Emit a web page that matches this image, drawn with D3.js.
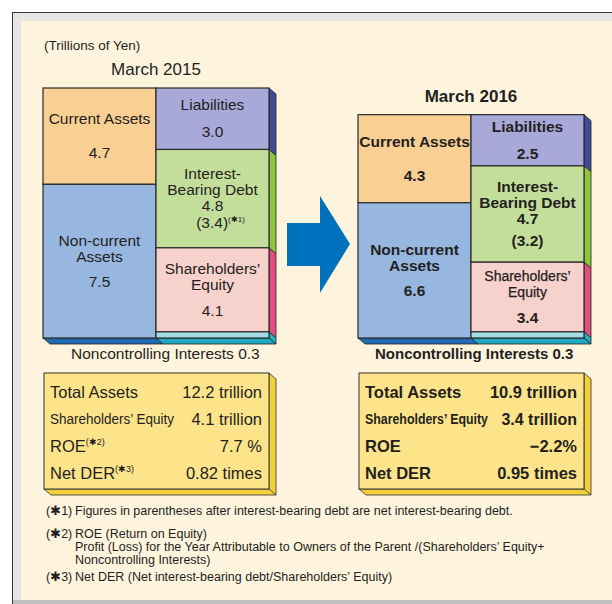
<!DOCTYPE html>
<html>
<head>
<meta charset="utf-8">
<script src="https://cdn.jsdelivr.net/npm/d3@7"></script>
<style>
  body { margin: 0; background: #fff; }
  svg { display: block; font-family: "Liberation Sans", Arial, sans-serif; }
</style>
</head>
<body>
<svg id="chart" width="612" height="604"></svg>
<script>
// values in trillions of yen
const years = ["March 2015", "March 2016"];
const currentAssets = [4.7, 4.3];
const noncurrentAssets = [7.5, 6.6];
const liabilities = [3.0, 2.5];
const interestBearingDebt = [4.8, 4.7];
const netInterestBearingDebt = [3.4, 3.2];
const shareholdersEquity = [4.1, 3.4];
const noncontrollingInterests = [0.3, 0.3];
const totalAssets = [12.2, 10.9];
const roe = [7.7, -2.2];
const netDER = [0.82, 0.95];

const footnotes = [
  ["(\u27311) ", "Figures in parentheses after interest-bearing debt are net interest-bearing debt."],
  ["(\u27312) ", "ROE (Return on Equity)"],
  ["", "Profit (Loss) for the Year Attributable to Owners of the Parent /(Shareholders\u2019 Equity+"],
  ["", "Noncontrolling Interests)"],
  ["(\u27313) ", "Net DER (Net interest-bearing debt/Shareholders\u2019 Equity)"],
];

const svg = d3.select("#chart");
const ink = "#231f20";
const depth = { x: 7, y: 6 };
const baseY = 338;
const colW = 113;
const chartX = [43, 358];
const nciX = [71, 375];

const colors = {
  current: "#f9cf93", noncurrent: "#97b6e0", liab: "#a9a9d9",
  ibd: "#c3dd9b", se: "#f7d1cc", nci: "#a3dce5",
};
const sideColors = {
  liab: "#3f4b97", ibd: "#8cc63f", se: "#e24d80", nci: "#1fb3c9",
};

// frame
svg.append("rect").attr("x", 12.5).attr("y", 12.5).attr("width", 620).attr("height", 600)
  .attr("fill", "#e8e4e2").attr("stroke", "#2e3b3b");
svg.append("rect").attr("x", 13).attr("y", 600).attr("width", 600).attr("height", 4).attr("fill", "#bfbfbf");
svg.append("rect").attr("x", 21).attr("y", 21).attr("width", 600).attr("height", 579).attr("fill", "#fef4de");

svg.append("text").attr("x", 44).attr("y", 50).attr("font-size", 13.5).attr("fill", ink)
  .text("(Trillions of Yen)");

const h = d3.scaleLinear().domain([0, d3.max(totalAssets)]).range([0, 250]);

function poly(pts) { return "M" + pts.map(p => p.join(",")).join("L") + "Z"; }

years.forEach((year, i) => {
  const bold = i === 1;
  const weight = bold ? "bold" : "normal";
  const x = d3.scaleBand().domain(["assets", "claims"]).range([chartX[i], chartX[i] + 2 * colW]);
  const g = svg.append("g");
  const top = baseY - h(totalAssets[i]);

  g.append("text").attr("x", chartX[i] + colW).attr("y", top - 13)
    .attr("text-anchor", "middle").attr("font-size", 17).attr("font-weight", weight)
    .attr("fill", ink).text(year);

  const fmt = d3.format(".1f");
  const assets = [
    { key: "current", v: currentAssets[i], lines: ["Current Assets"], gaps: [34], vals: [fmt(currentAssets[i])] },
    { key: "noncurrent", v: noncurrentAssets[i], lines: ["Non-current", "Assets"], gaps: [25], vals: [fmt(noncurrentAssets[i])] },
  ];
  const claims = [
    { key: "liab", v: liabilities[i], lines: ["Liabilities"], gaps: [27], vals: [fmt(liabilities[i])] },
    { key: "ibd", v: interestBearingDebt[i], lines: ["Interest-", "Bearing Debt"], gaps: [16, bold ? 22 : 17],
      vals: [fmt(interestBearingDebt[i]), "(" + fmt(netInterestBearingDebt[i]) + ")"], note: i === 0 ? "(\u27311)" : null },
    { key: "se", v: shareholdersEquity[i], lines: ["Shareholders\u2019", "Equity"], gaps: [26], vals: [fmt(shareholdersEquity[i])], narrow: bold },
    { key: "nci", v: noncontrollingInterests[i], lines: [], gaps: [], vals: [] },
  ];

  function stack(list, col) {
    let y0 = top;
    list.forEach(d => {
      d.y0 = y0; d.y1 = y0 + h(d.v); d.x0 = x(col); d.x1 = x(col) + x.bandwidth();
      y0 = d.y1;
    });
  }
  stack(assets, "assets");
  stack(claims, "claims");

  // right side faces
  const xr = x("claims") + x.bandwidth();
  g.selectAll(".side").data(claims).join("path")
    .attr("d", d => poly([[xr, d.y0], [xr + depth.x, d.y0 + depth.y], [xr + depth.x, d.y1 + depth.y], [xr, d.y1]]))
    .attr("fill", d => sideColors[d.key]).attr("stroke", "#222").attr("stroke-width", 0.8);
  // bottom faces
  g.append("path")
    .attr("d", poly([[x("assets"), baseY], [x("assets") + depth.x, baseY + depth.y], [x("claims") + depth.x, baseY + depth.y], [x("claims"), baseY]]))
    .attr("fill", "#1f6cb4").attr("stroke", "#222").attr("stroke-width", 0.8);
  g.append("path")
    .attr("d", poly([[x("claims"), baseY], [x("claims") + depth.x, baseY + depth.y], [xr + depth.x, baseY + depth.y], [xr, baseY]]))
    .attr("fill", "#1fa9c2").attr("stroke", "#222").attr("stroke-width", 0.8);

  const blocks = assets.concat(claims);
  g.selectAll(".block").data(blocks).join("rect")
    .attr("x", d => d.x0).attr("y", d => d.y0)
    .attr("width", d => d.x1 - d.x0).attr("height", d => d.y1 - d.y0)
    .attr("fill", d => colors[d.key]).attr("stroke", "#2a2a2a").attr("stroke-width", 1.2);

  // block labels, centred vertically in each block
  blocks.filter(d => d.lines.length).forEach(d => {
    const rows = [];
    let y = 0;
    d.lines.forEach((t, k) => { if (k > 0) y += 16; rows.push({ t, y }); });
    d.vals.forEach((t, k) => { y += d.gaps[k]; rows.push({ t, y, val: true }); });
    const off = (d.y0 + d.y1) / 2 - y / 2 + 5;
    const cx = (d.x0 + d.x1) / 2;
    rows.forEach((r, k) => {
      const last = d.note && k === rows.length - 1;
      const t = g.append("text").attr("x", cx + (last ? 8 : 0)).attr("y", off + r.y)
        .attr("text-anchor", "middle").attr("font-size", 15.5).attr("font-weight", weight).attr("fill", ink);
      if (d.narrow && !r.val) {
        t.attr("font-size", 14).attr("font-weight", "normal").attr("stroke", ink).attr("stroke-width", 0.25);
      }
      t.append("tspan").text(r.t);
      if (last) t.append("tspan").attr("font-size", 8).attr("dy", -6).text(d.note);
    });
  });

  g.append("text").attr("x", nciX[i]).attr("y", 359)
    .attr("font-size", bold ? 15 : 15.5).attr("font-weight", weight).attr("fill", ink)
    .text("Noncontrolling Interests " + fmt(noncontrollingInterests[i]));

  // summary box
  const bx = chartX[i] + 1, by = 373, bw = 225, bh = 116;
  const sg = svg.append("g");
  sg.append("path").attr("d", poly([[bx + bw, by], [bx + bw + depth.x, by + depth.y], [bx + bw + depth.x, by + bh + depth.y], [bx + depth.x, by + bh + depth.y], [bx, by + bh], [bx + bw, by + bh]]))
    .attr("fill", "#f3cf3a").attr("stroke", "#333").attr("stroke-width", 0.8);
  sg.append("line").attr("x1", bx + bw).attr("y1", by + bh).attr("x2", bx + bw + depth.x).attr("y2", by + bh + depth.y)
    .attr("stroke", "#333").attr("stroke-width", 0.8);
  sg.append("rect").attr("x", bx).attr("y", by).attr("width", bw).attr("height", bh)
    .attr("fill", "#fde48a").attr("stroke", "#333").attr("stroke-width", 1);

  const rowsData = [
    { label: "Total Assets", value: fmt(totalAssets[i]) + " trillion" },
    { label: "Shareholders\u2019 Equity", value: fmt(shareholdersEquity[i]) + " trillion", narrow: true },
    { label: "ROE", note: i === 0 ? "(\u27312)" : null, value: i === 0 ? fmt(roe[i]) + " %" : fmt(roe[i]) + "%" },
    { label: "Net DER", note: i === 0 ? "(\u27313)" : null, value: d3.format(".2f")(netDER[i]) + " times" },
  ];
  const rowY = d3.scalePoint().domain(d3.range(rowsData.length)).range([398, 479]);
  const lx = bx + 6, rx = bx + bw - 7;
  rowsData.forEach((r, k) => {
    const ty = rowY(k) - (r.narrow ? 1 : 0);
    const t = sg.append("text").attr("x", lx).attr("y", ty)
      .attr("font-size", r.narrow ? 15.5 : 16.5).attr("font-weight", weight).attr("fill", ink);
    t.append("tspan").text(r.label);
    if (r.narrow) {
      // condensed label: squeeze horizontally to the width seen in the original
      const w = t.node().getComputedTextLength();
      const target = i === 0 ? 124 : 123;
      t.attr("x", 0).attr("y", 0)
        .attr("transform", `translate(${lx},${ty}) scale(${target / w},1)`);
    }
    if (r.note) t.append("tspan").attr("font-size", 9).attr("dy", -7).text(r.note);
    sg.append("text").attr("x", rx).attr("y", rowY(k)).attr("text-anchor", "end")
      .attr("font-size", r.narrow && bold ? 16 : 16.5).attr("font-weight", weight).attr("fill", ink).text(r.value);
  });
});

// arrow between the two charts
svg.append("path")
  .attr("d", poly([[287, 223], [320, 223], [320, 196], [350, 244], [320, 293], [320, 266], [287, 266]]))
  .attr("fill", "#0071bc");

// footnotes
const fnY = [515, 538, 551, 564, 581];
footnotes.forEach((f, k) => {
  if (f[0]) svg.append("text").attr("x", 46).attr("y", fnY[k]).attr("font-size", 12.5).attr("fill", ink).text(f[0]);
  svg.append("text").attr("x", 75).attr("y", fnY[k]).attr("font-size", 12.5).attr("fill", ink).text(f[1]);
});
</script>
</body>
</html>
